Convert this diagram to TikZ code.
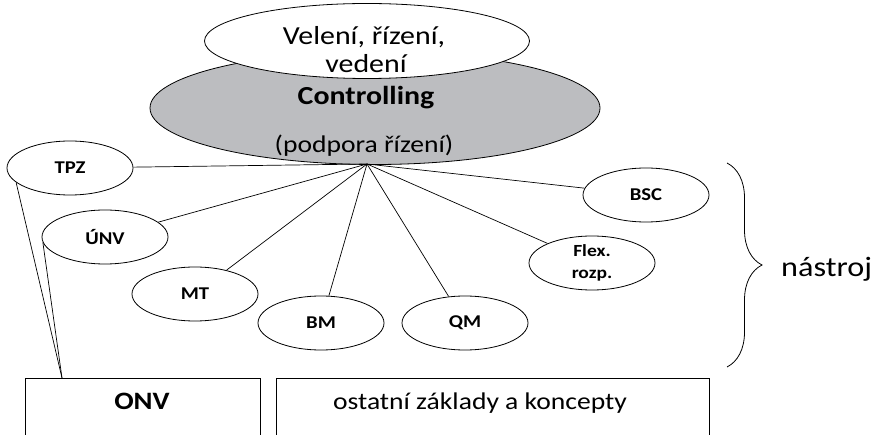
\documentclass[tikz,border=0pt]{standalone}
\usepackage{fontspec}
\setmainfont{Carlito}[FakeStretch=1.15]
\usetikzlibrary{shapes.geometric,decorations.pathreplacing}

\begin{document}
\begin{tikzpicture}[
  x=1pt, y=-1pt,
  ovl/.style={draw, ellipse, line width=0.8pt, fill=white, inner sep=0pt,
    minimum width=126pt, minimum height=54pt, align=center,
    font=\fontsize{18}{22}\selectfont\bfseries},
  zaklad/.style={draw, line width=0.8pt, anchor=north west, inner sep=0pt},
  txt/.style={font=\fontsize{24}{28}\selectfont, inner sep=0pt, anchor=base},
  spoj/.style={line width=0.7pt}
]
\useasboundingbox (0,0) rectangle (872,435);
% Controlling and its head
\node[draw, ellipse, line width=0.8pt, fill={rgb,255:red,188;green,189;blue,192},
  minimum width=450pt, minimum height=113pt, inner sep=0pt] (ctrl) at (375,108) {};
\node[draw, ellipse, line width=0.8pt, fill=white,
  minimum width=325pt, minimum height=75pt, inner sep=0pt] (vel) at (367,41) {};
\node[txt, font=\fontsize{26}{28}\selectfont] (vel1) at (364,45) {Velení, řízení,};
\node[txt, font=\fontsize{26}{28}\selectfont] (vel2) at (366,73) {vedení};
\node[txt, font=\fontsize{26}{28}\selectfont\bfseries] (ctrltxt) at (366,105) {Controlling};
\node[txt] (podp) at (364,153) {(podpora řízení)};
\coordinate (hub) at (367,164);
% tools
\node[ovl] (tpz) at (70,168) {TPZ};
\node[ovl] (unv) at (105,237) {ÚNV};
\node[ovl] (mt) at (195,294) {MT};
\node[ovl] (bm) at (321,323) {BM};
\node[ovl] (qm) at (465,323) {QM};
\node[ovl, font=\fontsize{17}{22}\selectfont\bfseries] (flex) at (592,263) {Flex.\\rozp.};
\node[ovl] (bsc) at (646,195) {BSC};
\foreach \n in {tpz,unv,mt,bm,qm,flex,bsc}
  \draw[spoj] (hub) -- (\n);
% foundations
\node[zaklad, minimum width=235pt, minimum height=70pt] (onv) at (25,378) {};
\node[txt, font=\fontsize{25}{28}\selectfont\bfseries] (onvtxt) at (142,409) {ONV};
\node[zaklad, minimum width=433pt, minimum height=70pt] (ost) at (276,378) {};
\node[txt] (osttxt) at (480,409) {ostatní základy a koncepty};
\coordinate (onvtop) at (62,378);
\draw[spoj] (tpz.195) -- (onvtop);
\draw[spoj] (unv.185) -- (onvtop);
% brace
\coordinate (bt) at (727,163);
\coordinate (bb) at (727,367);
\draw[line width=0.8pt, decorate, decoration={brace, amplitude=35pt}] (bt) -- (bb);
\node[txt, font=\fontsize{28}{28}\selectfont, anchor=base west] (nastroj) at (781,277) {nástroj};
\end{tikzpicture}
\end{document}
